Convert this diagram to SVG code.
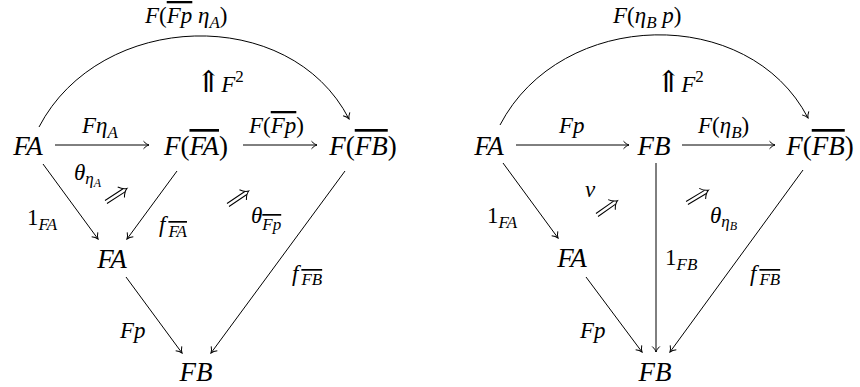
<svg xmlns="http://www.w3.org/2000/svg" xmlns:xlink="http://www.w3.org/1999/xlink" width="860" height="387" viewBox="0 0 860 387">
<style>
.t { font-family: "Liberation Serif", "DejaVu Serif", serif; font-style: italic; fill: #000; }
.n { font-size: 27px; text-anchor: middle; }
.l { font-size: 23px; }
.u { font-style: normal; }
.s { font-size: 17px; }
.ss { font-size: 12px; }
.big { font-size: 30px; font-style: normal; }
.ol { text-decoration: overline; text-decoration-thickness: 2px; }
.e { fill: none; stroke: #000; stroke-width: 1; }
.a { marker-end: url(#ah); }
</style>
<defs>
<marker id="ah" markerUnits="userSpaceOnUse" viewBox="-7 -5 8 10" refX="0" refY="0" markerWidth="8" markerHeight="10" orient="auto">
<path d="M-5.5,-3.8 C-3.5,-1.6 -1.6,-0.5 0,0 C-1.6,0.5 -3.5,1.6 -5.5,3.8" fill="none" stroke="#000" stroke-width="1"/>
</marker>
<g id="dbl" fill="none" stroke="#000" stroke-width="1">
<path d="M0,-1.8 H21.5 M0,1.8 H21.5"/>
<path d="M18,-6.2 C20,-3 22,-1 25,0 C22,1 20,3 18,6.2"/>
</g>
</defs>

<g class="t">
<!-- Left diagram nodes -->
<g id="L_FA"><text class="n" x="28" y="155">FA</text></g>
<g id="L_FFA"><text class="n" x="196" y="155">F<tspan class="u">(</tspan><tspan class="ol">FA</tspan><tspan class="u">)</tspan></text></g>
<g id="L_FFB"><text class="n" x="363" y="155">F<tspan class="u">(</tspan><tspan class="ol">FB</tspan><tspan class="u">)</tspan></text></g>
<g id="L_FA2"><text class="n" x="112" y="268">FA</text></g>
<g id="L_FB"><text class="n" x="196" y="381">FB</text></g>

<!-- Right diagram nodes -->
<g id="R_FA"><text class="n" x="489" y="155">FA</text></g>
<g id="R_FB"><text class="n" x="654" y="155">FB</text></g>
<g id="R_FFB"><text class="n" x="820" y="155">F<tspan class="u">(</tspan><tspan class="ol">FB</tspan><tspan class="u">)</tspan></text></g>
<g id="R_FA2"><text class="n" x="572" y="267">FA</text></g>
<g id="R_FB2"><text class="n" x="655" y="381">FB</text></g>
</g>

<g id="connectors">
<!-- left -->
<path class="e a" d="M55,145 H149"/>
<path class="e a" d="M243,145 H317"/>
<path class="e a" d="M39,127 C100,10 290,4 349,119"/>
<path class="e a" d="M43,164 L98,239"/>
<path class="e a" d="M177,171 L127,239"/>
<path class="e a" d="M345,171 L211,353"/>
<path class="e a" d="M126,277 L182,353"/>
<use xlink:href="#dbl" href="#dbl" transform="translate(106,202) rotate(-33)"/>
<use xlink:href="#dbl" href="#dbl" transform="translate(228,205) rotate(-34)"/>
<!-- right -->
<path class="e a" d="M516,145 H629"/>
<path class="e a" d="M682,145 H775"/>
<path class="e a" d="M500,125 C561,8 749,4 808,118"/>
<path class="e a" d="M503,163 L558,238"/>
<path class="e a" d="M656,163 V352"/>
<path class="e a" d="M803,170 L670,352"/>
<path class="e a" d="M586,277 L642,352"/>
<use xlink:href="#dbl" href="#dbl" transform="translate(597,215) rotate(-35)"/>
<use xlink:href="#dbl" href="#dbl" transform="translate(687,203) rotate(-31)"/>
</g>

<g id="labels" class="t">
<!-- left -->
<text class="l" x="145" y="23">F<tspan class="u">(</tspan><tspan class="ol">Fp</tspan> η<tspan class="s" dy="5">A</tspan><tspan class="u" dy="-5">)</tspan></text>
<text class="l" x="196" y="92"><tspan class="big">⇑</tspan>F<tspan class="s u" dy="-10">2</tspan></text>
<text class="l" x="82" y="133">Fη<tspan class="s" dy="5">A</tspan></text>
<text class="l" x="249" y="133">F<tspan class="u">(</tspan><tspan class="ol">Fp</tspan><tspan class="u">)</tspan></text>
<text class="l" x="74" y="180">θ<tspan class="s" dy="4">η</tspan><tspan class="ss" dy="3">A</tspan></text>
<text class="l" x="27" y="225"><tspan class="u">1</tspan><tspan class="s" dy="5">FA</tspan></text>
<text class="l" x="159" y="232">f<tspan class="s ol" dx="3" dy="5">FA</tspan></text>
<text class="l" x="251" y="223">θ<tspan class="s ol" dy="7">Fp</tspan></text>
<text class="l" x="292" y="281">f<tspan class="s ol" dx="3" dy="4">FB</tspan></text>
<text class="l" x="120" y="338">Fp</text>
<!-- right -->
<text class="l" x="613" y="23">F<tspan class="u">(</tspan>η<tspan class="s" dy="5">B</tspan><tspan dy="-5"> p</tspan><tspan class="u">)</tspan></text>
<text class="l" x="656" y="92"><tspan class="big">⇑</tspan>F<tspan class="s u" dy="-10">2</tspan></text>
<text class="l" x="559" y="133">Fp</text>
<text class="l" x="698" y="133">F<tspan class="u">(</tspan>η<tspan class="s" dy="5">B</tspan><tspan class="u" dy="-5">)</tspan></text>
<text class="l" x="585" y="197">v</text>
<text class="l" x="710" y="223">θ<tspan class="s" dy="4">η</tspan><tspan class="ss" dy="3">B</tspan></text>
<text class="l" x="487" y="223"><tspan class="u">1</tspan><tspan class="s" dy="5">FA</tspan></text>
<text class="l" x="665" y="265"><tspan class="u">1</tspan><tspan class="s" dy="5">FB</tspan></text>
<text class="l" x="750" y="281">f<tspan class="s ol" dx="3" dy="4">FB</tspan></text>
<text class="l" x="580" y="338">Fp</text>
</g>
</svg>
